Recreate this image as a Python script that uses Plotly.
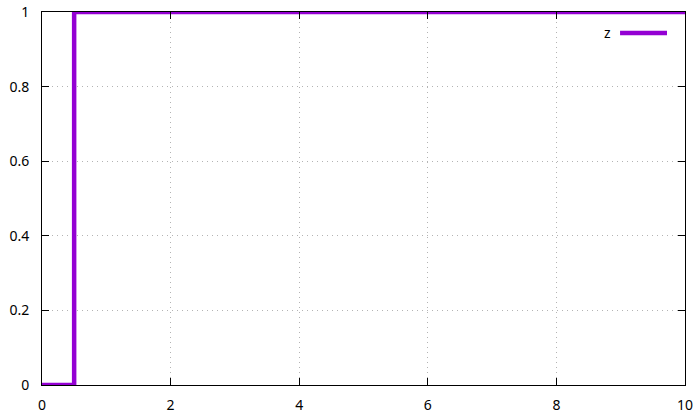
import plotly.graph_objects as go

# Step signal z: 0 until x = 0.5, then 1 up to x = 10
x_vals = [0, 0.5, 10]
z_vals = [0, 1, 1]

x_ticks = [0, 2, 4, 6, 8, 10]
y_ticks = [0, 0.2, 0.4, 0.6, 0.8, 1]
y_tick_text = ["0", "0.2", "0.4", "0.6", "0.8", "1"]

line_color = "#9400D3"
font = dict(family="Noto Sans", size=14, color="black")

fig = go.Figure()
fig.add_trace(go.Scatter(
    x=x_vals, y=z_vals, mode="lines", name="z",
    line=dict(color=line_color, width=4.5, shape="hv"),
    showlegend=False,
))

axis_common = dict(
    showline=True, linecolor="black", linewidth=1, mirror="allticks",
    ticks="inside", ticklen=7, tickwidth=1, tickcolor="black",
    showgrid=True, gridcolor="#b4b4b4", griddash="1px,4px", gridwidth=1,
    zeroline=False, automargin=False,
    tickfont=font,
)

fig.update_xaxes(range=[0, 10], tickvals=x_ticks, ticklabelstandoff=7, **axis_common)
fig.update_yaxes(range=[0, 1], tickvals=y_ticks, ticktext=y_tick_text,
                 ticklabelstandoff=9, **axis_common)

# Key: label to the left of the line sample
fig.add_annotation(x=0.888, y=0.944, xref="paper", yref="paper", text="z",
                   showarrow=False, xanchor="right", yanchor="middle", font=font)
fig.add_shape(type="line", xref="paper", yref="paper",
              x0=0.899, x1=0.972, y0=0.944, y1=0.944,
              line=dict(color=line_color, width=4.5))

fig.update_layout(
    width=699, height=415,
    margin=dict(l=42, r=14, t=12, b=30),
    plot_bgcolor="white", paper_bgcolor="white",
)

fig.write_html("out.html")
